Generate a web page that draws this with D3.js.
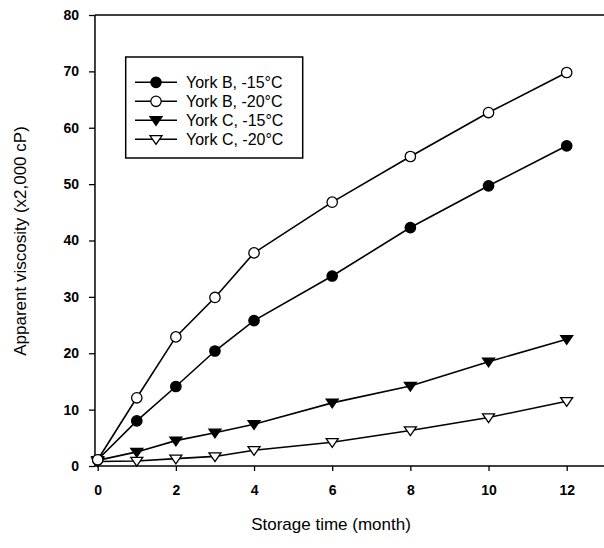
<!DOCTYPE html>
<html>
<head>
<meta charset="utf-8">
<script src="https://cdn.jsdelivr.net/npm/d3@7"></script>
<style>
  body { margin: 0; background: #fff; }
  svg { display: block; }
  text { font-family: "Liberation Sans", Arial, sans-serif; fill: #000; }
</style>
</head>
<body>
<svg id="chart" width="604" height="548"></svg>
<script>
const months = [0, 1, 2, 3, 4, 6, 8, 10, 12];
const yorkB15 = [1.1, 8.0, 14.1, 20.4, 25.8, 33.7, 42.3, 49.7, 56.8];
const yorkB20 = [1.1, 12.1, 22.9, 29.9, 37.8, 46.8, 54.9, 62.7, 69.8];
const yorkC15 = [1.0, 2.5, 4.5, 5.9, 7.4, 11.2, 14.2, 18.5, 22.5];
const yorkC20 = [0.8, 0.9, 1.3, 1.7, 2.8, 4.2, 6.3, 8.6, 11.5];
const seriesNames = ["York B, -15°C", "York B, -20°C", "York C, -15°C", "York C, -20°C"];
const seriesMarkers = ["circle-filled", "circle-open", "tri-filled", "tri-open"];
const xTicks = [0, 2, 4, 6, 8, 10, 12];
const yTicks = [0, 10, 20, 30, 40, 50, 60, 70, 80];
const xTitle = "Storage time (month)";
const yTitle = "Apparent viscosity (x2,000 cP)";

const seriesValues = [yorkB15, yorkB20, yorkC15, yorkC20];

(function () {
const svg = d3.select("#chart");
const x = d3.scaleLinear().domain([0, 12]).range([97.7, 566.7]);
const y = d3.scaleLinear().domain([0, 80]).range([466, 15]);

const pLeft = x(-0.07), pRight = x(13.42), pTop = y(80), pBottom = y(0);

// frame (top and right)
svg.append("path")
  .attr("d", `M${pLeft},${pTop}H${pRight}V${pBottom}`)
  .attr("fill", "none").attr("stroke", "#000").attr("stroke-width", 1.5);

// axes
const xAxis = svg.append("g").attr("transform", `translate(0,${pBottom})`)
  .call(d3.axisBottom(x).tickValues(xTicks).tickSize(5).tickSizeOuter(0).tickPadding(14));
const yAxis = svg.append("g").attr("transform", `translate(${pLeft},0)`)
  .call(d3.axisLeft(y).tickValues(yTicks).tickSize(6).tickSizeOuter(0).tickPadding(10));
[xAxis, yAxis].forEach(g => {
  g.select(".domain").remove();
  g.selectAll("line").attr("stroke", "#000").attr("stroke-width", 1.3);
  g.selectAll("text").attr("font-size", 14).attr("font-weight", "bold")
    .attr("font-family", '"Liberation Sans", Arial, sans-serif');
});
svg.append("line").attr("x1", pLeft).attr("x2", pRight).attr("y1", pBottom).attr("y2", pBottom)
  .attr("stroke", "#000").attr("stroke-width", 1.5);
svg.append("line").attr("x1", pLeft).attr("x2", pLeft).attr("y1", pTop).attr("y2", pBottom)
  .attr("stroke", "#000").attr("stroke-width", 1.5);

// axis titles
svg.append("text").attr("x", 331).attr("y", 530).attr("text-anchor", "middle")
  .attr("font-size", 17).text(xTitle);
svg.append("text").attr("transform", "translate(26,241) rotate(-90)")
  .attr("text-anchor", "middle").attr("font-size", 17).text(yTitle);

function drawMarker(g, type, cx, cy) {
  if (type.startsWith("circle")) {
    g.append("circle").attr("cx", cx).attr("cy", cy).attr("r", 5.2)
      .attr("fill", type.endsWith("filled") ? "#000" : "#fff")
      .attr("stroke", "#000").attr("stroke-width", 1.3);
  } else {
    const s = 6;
    g.append("path")
      .attr("d", `M${cx - s},${cy - s * 0.6}L${cx + s},${cy - s * 0.6}L${cx},${cy + s * 0.85}Z`)
      .attr("fill", type.endsWith("filled") ? "#000" : "#fff")
      .attr("stroke", "#000").attr("stroke-width", 1.3).attr("stroke-linejoin", "miter");
  }
}

const line = d3.line().x(d => x(d[0])).y(d => y(d[1]));
seriesValues.forEach((vals) => {
  const pts = months.map((m, j) => [m, vals[j]]);
  svg.append("path").datum(pts).attr("d", line)
    .attr("fill", "none").attr("stroke", "#000").attr("stroke-width", 1.6);
});
const order = [3, 2, 0, 1];
order.forEach(i => {
  const g = svg.append("g");
  months.forEach((m, j) => drawMarker(g, seriesMarkers[i], x(m), y(seriesValues[i][j])));
});

// legend
const lg = svg.append("g");
lg.append("rect").attr("x", 125.7).attr("y", 57).attr("width", 177).attr("height", 101)
  .attr("fill", "#fff").attr("stroke", "#000").attr("stroke-width", 1.5);
seriesNames.forEach((name, i) => {
  const ly = 82.3 + i * 19;
  lg.append("line").attr("x1", 135).attr("x2", 177).attr("y1", ly).attr("y2", ly)
    .attr("stroke", "#000").attr("stroke-width", 1.6);
  drawMarker(lg, seriesMarkers[i], 156, ly);
  lg.append("text").attr("x", 186).attr("y", ly + 5.5).attr("font-size", 16).text(name);
});
})();
</script>
</body>
</html>
